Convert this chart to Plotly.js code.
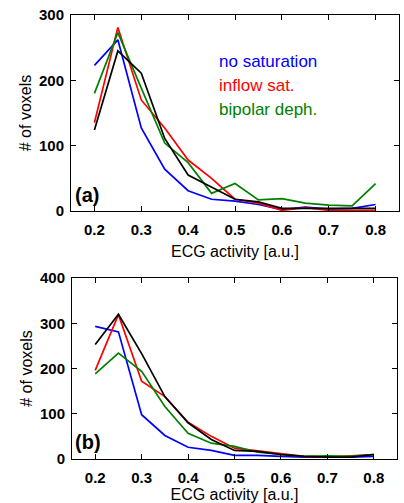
<!DOCTYPE html>
<html>
<head>
<meta charset="utf-8">
<script src="https://cdn.plot.ly/plotly-3.0.1.min.js"></script>
<style>html,body{margin:0;padding:0;background:#fff;}#chart{width:404px;height:503px;}</style>
</head>
<body>
<div id="chart"></div>
<script>
const ecg = [0.2,0.25,0.3,0.35,0.4,0.45,0.5,0.55,0.6,0.65,0.7,0.75,0.8];

// Panel (a)
const aNoSat   = [223,262,127,64,31,18,15,10,2,6,3,4,10];
const aInflow  = [135,281,170,127,78,50,18,12,1,5,1,1,1];
const aBipolar = [180,273,188,104,74,27,42,17,19,12,9,8,42];
const aBlack   = [124,245,211,111,55,37,18,14,4,4,4,3,4];

// Panel (b)
const bNoSat   = [293,281,98,52,26,19,8,8,6,4,4,4,6];
const bInflow  = [196,319,172,138,81,50,24,18,13,6,4,7,10];
const bBipolar = [188,234,194,116,57,35,28,15,10,6,7,6,10];
const bBlack   = [253,320,233,138,80,43,19,17,10,6,4,4,10];

const xTicks = [0.2,0.3,0.4,0.5,0.6,0.7,0.8];
const aYTicks = [0,100,200,300];
const bYTicks = [0,100,200,300,400];

const legendNames = ['no saturation','inflow sat.','bipolar deph.'];
const colors = {blue:'#0000ff', red:'#ff0000', green:'#008000', black:'#000000'};

function tr(y, color, xa, ya){
  return {x: ecg, y: y, xaxis: xa, yaxis: ya, type:'scatter', mode:'lines',
          line:{color: color, width:1.7}, showlegend:false, hoverinfo:'skip'};
}

const data = [
  tr(aNoSat, colors.blue, 'x','y'),
  tr(aInflow, colors.red, 'x','y'),
  tr(aBipolar, colors.green, 'x','y'),
  tr(aBlack, colors.black, 'x','y'),
  tr(bNoSat, colors.blue, 'x2','y2'),
  tr(bInflow, colors.red, 'x2','y2'),
  tr(bBipolar, colors.green, 'x2','y2'),
  tr(bBlack, colors.black, 'x2','y2')
];

const FAM = 'Liberation Sans, Arial, sans-serif';
const tickFont = {family:FAM, size:15, color:'#000', weight:'bold'};
const titleFont = {family:FAM, size:16, color:'#000'};

function xaxis(domain, anchor, standoff){
  return {domain: domain, anchor: anchor, range:[0.15,0.85], tickvals: xTicks,
    ticktext: xTicks.map(v=>v.toFixed(1)), ticks:'inside', ticklen:5, tickcolor:'#000',
    ticklabelstandoff:5,
    showline:true, linecolor:'#000', linewidth:1, mirror:'ticks', showgrid:false, zeroline:false,
    tickfont: tickFont, title:{text:'ECG activity [a.u.]', font: titleFont, standoff:standoff}};
}
function yaxis(domain, anchor, range, ticks){
  return {domain: domain, anchor: anchor, range: range, tickvals: ticks,
    ticks:'inside', ticklen:5, tickcolor:'#000', ticklabelstandoff:3,
    showline:true, linecolor:'#000', linewidth:1, mirror:'ticks', showgrid:false, zeroline:false,
    tickfont: tickFont, title:{text:'# of voxels', font: titleFont, standoff:3}};
}

const layout = {
  width:404, height:503,
  margin:{l:0,r:0,t:0,b:0},
  paper_bgcolor:'#fff', plot_bgcolor:'#fff',
  xaxis: xaxis([71/404, 399/404], 'y', 8),
  yaxis: yaxis([292/503, 488/503], 'x', [0,300], aYTicks),
  xaxis2: xaxis([72/404, 397/404], 'y2', 3),
  yaxis2: yaxis([44/503, 225/503], 'x2', [0,400], bYTicks),
  annotations: [
    {text: legendNames[0], x:217/404, y:1-61/503, xref:'paper', yref:'paper', xanchor:'left', yanchor:'middle', showarrow:false, font:{family:FAM, size:17, color:colors.blue}},
    {text: legendNames[1], x:217/404, y:1-85/503, xref:'paper', yref:'paper', xanchor:'left', yanchor:'middle', showarrow:false, font:{family:FAM, size:17, color:colors.red}},
    {text: legendNames[2], x:217/404, y:1-109/503, xref:'paper', yref:'paper', xanchor:'left', yanchor:'middle', showarrow:false, font:{family:FAM, size:17, color:colors.green}},
    {text:'(a)', x:73/404, y:1-195/503, xref:'paper', yref:'paper', xanchor:'left', yanchor:'middle', showarrow:false, font:{family:FAM, size:20, color:'#000', weight:'bold'}},
    {text:'(b)', x:73/404, y:1-442/503, xref:'paper', yref:'paper', xanchor:'left', yanchor:'middle', showarrow:false, font:{family:FAM, size:20, color:'#000', weight:'bold'}}
  ]
};

Plotly.newPlot('chart', data, layout, {staticPlot:true, displayModeBar:false});
</script>
</body>
</html>
